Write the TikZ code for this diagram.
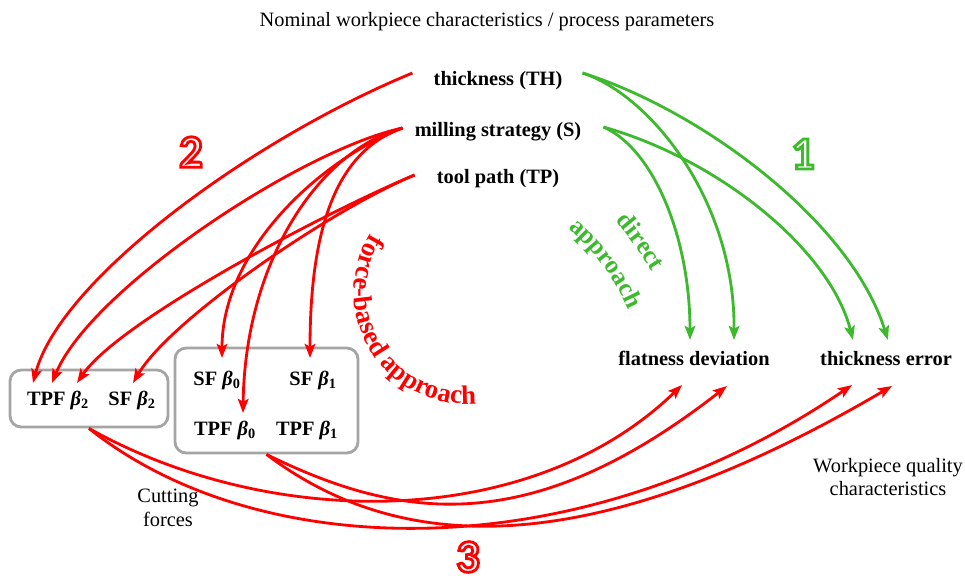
\documentclass[tikz,border=0pt]{standalone}
\usepackage{fontspec}
\setmainfont{Liberation Serif}
\newfontfamily\digitfont{Carlito}
\usetikzlibrary{arrows.meta,calc,decorations.text}
\definecolor{dirgreen}{RGB}{60,185,45}
\definecolor{boxgray}{RGB}{165,165,165}
\newcommand{\outlinedigit}[2]{{\color{#1}\special{pdf:literal direct 2 Tr 2 w 0.96 0.96 0.96 rg}#2\special{pdf:literal direct 0 Tr}}}

\begin{document}
\begin{tikzpicture}[x=0.025cm,y=-0.025cm,
    lab/.style={font=\fontsize{14.5}{17}\selectfont\bfseries,inner sep=0pt,anchor=base},
    note/.style={font=\fontsize{14.5}{17}\selectfont,align=center},
    grp/.style={draw=boxgray,line width=2pt,rounded corners=8pt},
    redarr/.style={red,line width=2pt,-{Stealth[length=10pt,width=7.5pt,inset=2pt]}},
    greenarr/.style={dirgreen,line width=2pt,-{Stealth[length=10pt,width=7.5pt,inset=2pt]}},
    bignum/.style={font=\digitfont\fontsize{33}{33}\selectfont\bfseries}]

    \useasboundingbox (0,0) rectangle (965,581);

    \node[note](title)at(487,22){Nominal workpiece characteristics / process parameters};

    \node[lab](th)at(498,85){thickness (TH)};
    \node[lab](ms)at(498,136){milling strategy (S)};
    \node[lab](tp)at(498,183){tool path (TP)};

    \node[lab](fd)at(694,365){flatness deviation};
    \node[lab](te)at(886,365){thickness error};

    \node[grp,minimum width=3.95cm,minimum height=1.425cm](lbox)at(89,398.5){};
    \node[grp,minimum width=4.575cm,minimum height=2.625cm](rbox)at(266.5,400.5){};

    \node[lab](tpf2)at(58,405){TPF \textit{β}\textsubscript{2}};
    \node[lab](sf2)at(132,405){SF \textit{β}\textsubscript{2}};
    \node[lab](sf0)at(217,385){SF \textit{β}\textsubscript{0}};
    \node[lab](sf1)at(313,385){SF \textit{β}\textsubscript{1}};
    \node[lab](tpf0)at(225,435){TPF \textit{β}\textsubscript{0}};
    \node[lab](tpf1)at(307,435){TPF \textit{β}\textsubscript{1}};

    \node[note](cut)at(168,508){Cutting\\forces};
    \node[note](wq)at(888,477){Workpiece quality\\characteristics};

    \draw[redarr]($(th.base west)+(-21,-12)$)..controls(250,140)and(60,280)..($(tpf2.base)+(-25,-22)$);
    \draw[redarr]($(ms.base west)+(-12,-8)$)..controls(300,150)and(90,290)..($(tpf2.base)+(-6,-22)$);
    \draw[redarr]($(tp.base west)+(-22,-8)$)..controls(330,210)and(120,320)..($(tpf2.base)+(19,-22)$);
    \draw[redarr]($(tp.base west)+(-22,-8)$)..controls(330,210)and(170,320)..($(sf2.base)+(1,-22)$);

    \draw[redarr]($(ms.base west)+(-12,-8)$)..controls(320,160)and(222,250)..($(sf0.base)+(5,-27)$);
    \draw[redarr]($(ms.base west)+(-12,-8)$)..controls(320,150)and(245,260)..($(tpf0.base)+(18,-22)$);
    \draw[redarr]($(ms.base west)+(-12,-8)$)..controls(340,150)and(310,220)..($(sf1.base)+(-3,-27)$);

    \draw[greenarr]($(th.base east)+(20,-12)$)..controls(650,95)and(735,200)..($(fd.base)+(40,-25)$);
    \draw[greenarr]($(th.base east)+(20,-12)$)..controls(700,110)and(850,220)..($(te.base)+(2,-25)$);
    \draw[greenarr]($(ms.base east)+(22,-9)$)..controls(655,150)and(690,240)..($(fd.base)+(-4,-25)$);
    \draw[greenarr]($(ms.base east)+(22,-9)$)..controls(720,160)and(830,250)..($(te.base)+(-33,-25)$);

    \draw[redarr](lbox.south)..controls(270,530)and(530,532)..($(fd.base)+(-12,20)$);
    \draw[redarr](lbox.south)..controls(260,565)and(580,570)..($(te.base)+(-34,20)$);
    \draw[redarr](rbox.south)..controls(400,520)and(530,540)..($(fd.base)+(33,21)$);
    \draw[redarr](rbox.south)..controls(380,540)and(560,581)..($(te.base)+(6,21)$);

    \path[decorate,decoration={text along path,text align=center,
        text={|\fontsize{19}{19}\selectfont\bfseries\color{red}|force-based approach}}]
        (466,292)++(211.6:112)arc[start angle=211.6,end angle=84.4,radius=112];
    \path[decorate,decoration={text along path,text align=center,
        text={|\fontsize{18}{18}\selectfont\bfseries\color{dirgreen}|direct}}]
        (600,203)..controls(622,228)and(645,256)..(664,292);
    \path[decorate,decoration={text along path,text align=center,
        text={|\fontsize{18}{18}\selectfont\bfseries\color{dirgreen}|approach}}]
        (555,218)..controls(585,240)and(615,272)..(635,325);

    \node[bignum](n2)at(191,152){\outlinedigit{red}{2}};
    \node[bignum](n1)at(803,154){\outlinedigit{dirgreen}{1}};
    \node[bignum](n3)at(468,557){\outlinedigit{red}{3}};
\end{tikzpicture}
\end{document}
